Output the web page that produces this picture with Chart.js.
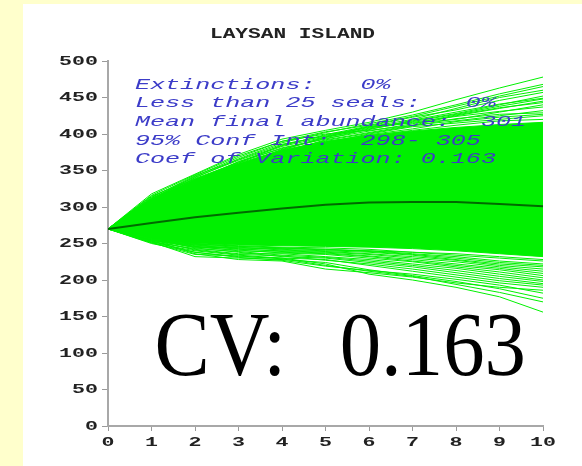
<!DOCTYPE html>
<html>
<head>
<meta charset="utf-8">
<script src="https://cdn.jsdelivr.net/npm/chart.js@4"></script>
<style>
  html, body { margin: 0; padding: 0; background: #ffffcc; width: 582px; height: 466px; overflow: hidden; }
  #panel { position: absolute; left: 23px; top: 4px; width: 559px; height: 462px; background: #ffffff; }
  canvas { position: absolute; left: 0; top: 0; }
</style>
</head>
<body>
<div id="panel"><canvas id="c" width="559" height="462"></canvas></div>
<script>
// Years of the projection
const years = [0, 1, 2, 3, 4, 5, 6, 7, 8, 9, 10];

// Mean abundance across all runs
const meanRun = [270, 278, 286, 292, 298, 303, 306, 307, 307, 304, 301];

// Dense middle of the simulated runs
const bandHigh = [270, 312, 338, 360, 378, 390, 398, 404, 409, 413, 416];
const bandLow  = [270, 256, 250, 248, 247, 246, 245, 243, 240, 236, 232];

// Runs ending above the dense middle
const highRuns = [
  [270, 318, 345, 372, 393, 405, 416, 430, 447, 463, 478],
  [270, 316, 344, 370, 390, 403, 412, 424, 438, 452, 465],
  [270, 312, 340, 366, 388, 402, 414, 426, 440, 455, 468],
  [270, 315, 338, 360, 385, 398, 410, 420, 435, 450, 460],
  [270, 314, 341, 364, 384, 399, 411, 423, 433, 446, 457],
  [270, 305, 335, 362, 380, 395, 408, 418, 428, 440, 452],
  [270, 309, 337, 362, 383, 396, 406, 419, 430, 441, 449],
  [270, 313, 343, 365, 386, 397, 409, 417, 427, 438, 448],
  [270, 310, 342, 368, 390, 400, 405, 412, 425, 435, 445],
  [270, 304, 333, 357, 379, 394, 404, 414, 426, 436, 443],
  [270, 300, 330, 355, 378, 396, 410, 415, 420, 430, 440],
  [270, 311, 339, 361, 381, 393, 407, 416, 424, 431, 437],
  [270, 308, 336, 358, 375, 392, 402, 412, 418, 425, 432],
  [270, 307, 331, 354, 376, 391, 401, 411, 421, 427, 429],
  [270, 303, 329, 353, 371, 389, 399, 407, 417, 423, 427],
  [270, 302, 328, 352, 372, 388, 400, 410, 415, 420, 425],
  [270, 306, 332, 350, 368, 385, 398, 405, 412, 418, 420]
];

// Runs ending below the dense middle
const lowRuns = [
  [270, 250, 238, 232, 230, 222, 208, 200, 190, 177, 156],
  [270, 252, 232, 230, 228, 224, 214, 206, 198, 188, 175],
  [270, 251, 235, 233, 229, 220, 212, 205, 194, 183, 170],
  [270, 253, 238, 231, 227, 219, 213, 208, 201, 193, 182],
  [270, 254, 236, 228, 226, 215, 210, 204, 196, 190, 186],
  [270, 251, 240, 234, 230, 228, 220, 212, 204, 196, 190],
  [270, 255, 241, 235, 233, 227, 222, 215, 207, 199, 193],
  [270, 256, 244, 238, 232, 230, 224, 218, 210, 202, 195],
  [270, 252, 243, 239, 234, 231, 226, 220, 213, 205, 198],
  [270, 253, 242, 236, 236, 232, 228, 222, 216, 208, 200],
  [270, 256, 245, 241, 237, 235, 230, 225, 218, 211, 203],
  [270, 255, 246, 240, 238, 236, 232, 226, 220, 214, 206],
  [270, 257, 246, 243, 239, 237, 233, 228, 222, 216, 209],
  [270, 257, 248, 242, 240, 238, 235, 230, 225, 218, 212],
  [270, 254, 248, 245, 241, 239, 236, 232, 227, 220, 215],
  [270, 254, 245, 244, 242, 240, 238, 234, 228, 222, 218],
  [270, 258, 249, 246, 244, 242, 239, 235, 230, 224, 220],
  [270, 258, 250, 246, 244, 241, 240, 236, 232, 226, 222],
  [270, 256, 247, 244, 243, 242, 240, 238, 234, 230, 226],
  [270, 255, 249, 247, 245, 244, 242, 238, 236, 232, 228]
];

// Axis tick labels
const yTicks = [0, 50, 100, 150, 200, 250, 300, 350, 400, 450, 500];
const xTicks = [0, 1, 2, 3, 4, 5, 6, 7, 8, 9, 10];

const titleText = 'LAYSAN ISLAND';
const statLines = [
  'Extinctions:   0%',
  'Less than 25 seals:   0%',
  'Mean final abundance:  301',
  '95% Conf Int:  298- 305',
  'Coef of Variation: 0.163'
];
const cvLabel = 'CV:';
const cvValue = '0.163';

const GREEN = '#00f000';

function pts(vals) { return vals.map((v, i) => ({ x: years[i], y: v })); }
function runSet(vals) {
  return { data: pts(vals), borderColor: GREEN, borderWidth: 1, pointRadius: 0, fill: false, tension: 0 };
}

const datasets = [
  { data: pts(meanRun), borderColor: '#006a00', borderWidth: 2, pointRadius: 0, fill: false, tension: 0 },
  ...highRuns.map(runSet),
  ...lowRuns.map(runSet),
  { data: pts(bandHigh), borderColor: GREEN, borderWidth: 1, pointRadius: 0, backgroundColor: GREEN, fill: '+1', tension: 0 },
  { data: pts(bandLow), borderColor: GREEN, borderWidth: 1, pointRadius: 0, fill: false, tension: 0 }
];

// Draw text widened horizontally, like the old plotting output
function wideText(ctx, text, x, y, font, sx, align, color) {
  ctx.save();
  ctx.translate(x, y);
  ctx.scale(sx, 1);
  ctx.font = font;
  ctx.textAlign = align;
  ctx.fillStyle = color;
  ctx.fillText(text, 0, 0);
  ctx.restore();
}

const labelsPlugin = {
  id: 'labels',
  afterDraw(chart) {
    const ctx = chart.ctx;
    const xs = chart.scales.x, ys = chart.scales.y;
    ctx.save();
    ctx.textBaseline = 'middle';
    yTicks.forEach(v => {
      wideText(ctx, String(v), xs.left - 10, ys.getPixelForValue(v) + 0.5,
               'bold 12px "Liberation Mono"', 1.8, 'right', '#222222');
    });
    xTicks.forEach(v => {
      wideText(ctx, String(v), xs.getPixelForValue(v), ys.bottom + 17,
               'bold 12px "Liberation Mono"', 1.8, 'center', '#222222');
    });
    wideText(ctx, titleText, 269.5, 30, 'bold 14.5px "Liberation Mono"', 1.46, 'center', '#222222');

    ctx.textBaseline = 'alphabetic';
    statLines.forEach((s, i) => {
      wideText(ctx, s, 112, 84.5 + i * 18.7, 'italic 14px "Liberation Mono"', 1.79, 'left', '#3c3cc8');
    });

    wideText(ctx, cvLabel, 131.4, 371, '90px "Liberation Serif"', 0.92, 'left', '#000000');
    wideText(ctx, cvValue, 316.7, 371, '90px "Liberation Serif"', 0.92, 'left', '#000000');
    ctx.restore();
  }
};

new Chart(document.getElementById('c'), {
  type: 'line',
  data: { datasets },
  options: {
    responsive: false,
    devicePixelRatio: 1,
    animation: false,
    events: [],
    layout: { padding: { top: 57, right: 39, left: 0, bottom: 0 } },
    plugins: { legend: { display: false }, tooltip: { enabled: false }, title: { display: false } },
    scales: {
      x: {
        type: 'linear', min: 0, max: 10,
        afterFit: s => { s.height = 40; },
        ticks: { stepSize: 1, color: 'rgba(0,0,0,0)', font: { size: 10 } },
        grid: { drawOnChartArea: false, drawTicks: true, tickLength: 5, color: '#9a9a9a', lineWidth: 1 },
        border: { display: true, color: '#a8a8a8', width: 2 }
      },
      y: {
        type: 'linear', min: 0, max: 500,
        afterFit: s => { s.width = 85; },
        ticks: { stepSize: 50, color: 'rgba(0,0,0,0)', font: { size: 10 } },
        grid: { drawOnChartArea: false, drawTicks: true, tickLength: 6, color: '#9a9a9a', lineWidth: 1 },
        border: { display: true, color: '#a8a8a8', width: 2 }
      }
    }
  },
  plugins: [labelsPlugin]
});
</script>
</body>
</html>
